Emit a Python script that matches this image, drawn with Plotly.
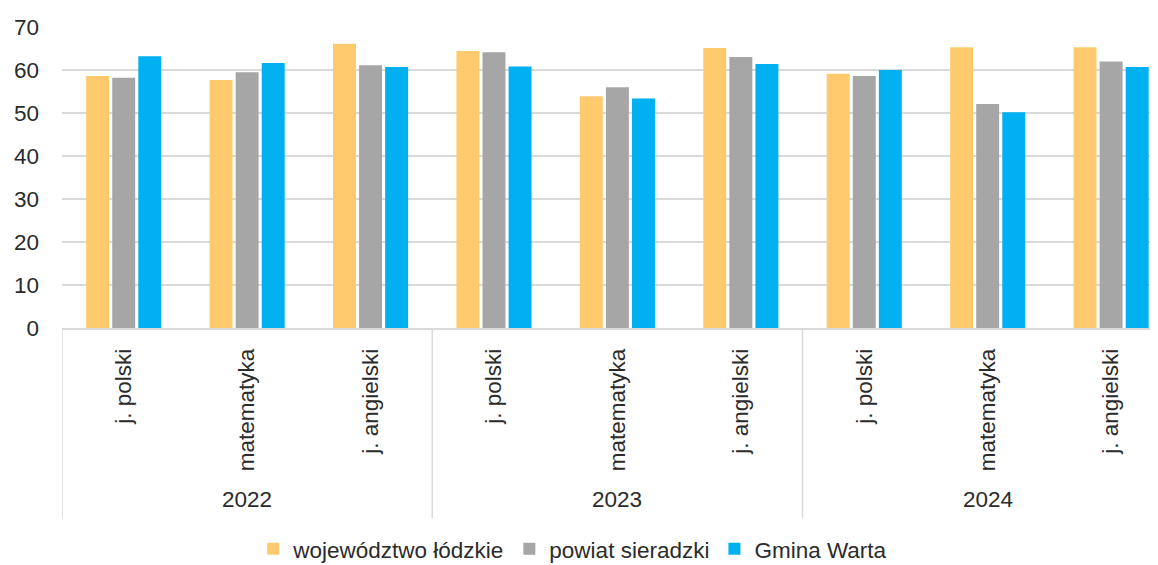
import plotly.graph_objects as go

# categories
years = ["2022", "2023", "2024"]
subjects = ["j. polski", "matematyka", "j. angielski"]

# values per series (year-major, subject-minor order)
wojewodztwo = [58.6, 57.7, 66.1, 64.4, 53.9, 65.1, 59.1, 65.3, 65.3]
powiat = [58.2, 59.5, 61.1, 64.1, 56.0, 63.0, 58.6, 52.1, 62.0]
gmina = [63.2, 61.6, 60.7, 60.8, 53.4, 61.4, 60.0, 50.2, 60.7]

series_names = ["województwo łódzkie", "powiat sieradzki", "Gmina Warta"]
series_colors = ["#FFCA6E", "#A6A6A6", "#00B0F0"]

FONT = "Liberation Sans, Arial, sans-serif"
TEXT = "#2B2B2B"
GRID = "#D9D9D9"
FS = 22.5

x_pos = list(range(len(years) * len(subjects)))
tick_text = [s for _ in years for s in subjects]

fig = go.Figure()
for name, vals, col in zip(series_names, [wojewodztwo, powiat, gmina], series_colors):
    fig.add_trace(go.Bar(
        x=x_pos, y=vals, name=name,
        marker=dict(color=col, line=dict(width=0)),
    ))

# year labels under each group
for i, yr in enumerate(years):
    fig.add_annotation(
        x=i * 3 + 1, y=-0.571, xref="x", yref="paper",
        text=yr, showarrow=False, yanchor="middle",
        font=dict(family=FONT, size=FS, color=TEXT),
    )

# group dividers
for i in range(len(years)):
    fig.add_shape(
        type="line", xref="x", yref="paper",
        x0=i * 3 - 0.5, x1=i * 3 - 0.5, y0=0, y1=-0.631,
        line=dict(color=GRID, width=1.5),
    )

# page body has an 8px default margin, so the figure is 8px smaller
fig.update_layout(
    width=1150, height=557,
    margin=dict(l=54, r=0, t=19, b=237, autoexpand=False),
    paper_bgcolor="white", plot_bgcolor="white",
    barmode="group", bargap=0.366, bargroupgap=0.12,
    font=dict(family=FONT, size=FS, color=TEXT),
    showlegend=True,
    legend=dict(
        orientation="h", x=0.466, xanchor="center", y=-0.735, yanchor="middle",
        font=dict(family=FONT, size=FS, color=TEXT),
        itemwidth=30, traceorder="normal",
    ),
    xaxis=dict(
        range=[-0.5, 8.38], tickmode="array", tickvals=x_pos, ticktext=tick_text,
        tickangle=-90, showgrid=False, zeroline=False, ticks="",
        showline=True, linecolor=GRID, linewidth=1.5,
        ticklabelstandoff=10, automargin=False,
        tickfont=dict(family=FONT, size=FS, color=TEXT),
    ),
    yaxis=dict(
        range=[0, 70], dtick=10, showgrid=True, gridcolor=GRID, gridwidth=1.5,
        zeroline=False, showline=False, ticks="",
        ticklabelstandoff=22, automargin=False,
        tickfont=dict(family=FONT, size=FS, color=TEXT),
    ),
)

fig.write_html("out.html")
